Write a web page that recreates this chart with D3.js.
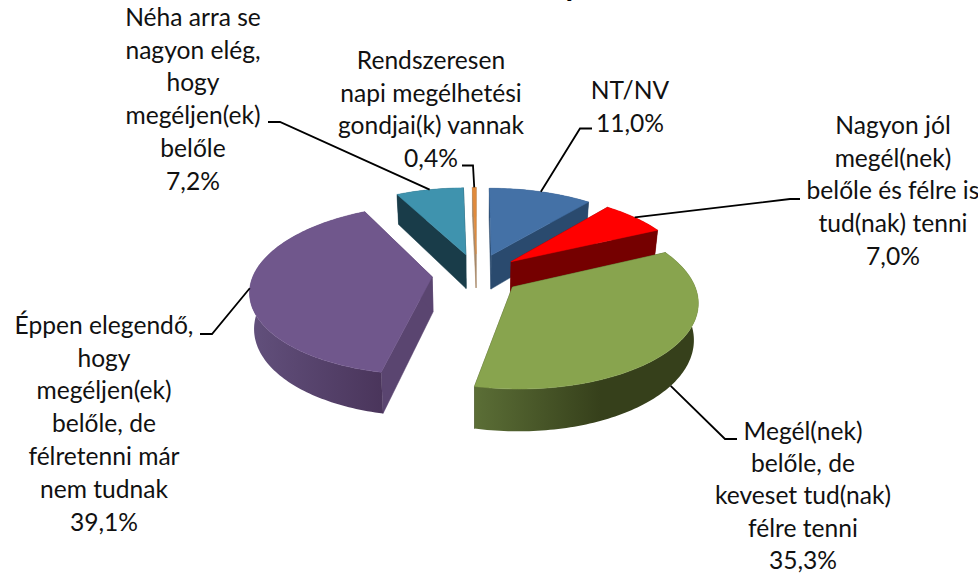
<!DOCTYPE html>
<html>
<head>
<meta charset="utf-8">
<script src="https://cdn.jsdelivr.net/npm/d3@7/dist/d3.min.js"></script>
<style>
html, body { margin: 0; padding: 0; background: #fff; overflow: hidden; }
svg { display: block; }
text { font-family: Lato, "Noto Sans", sans-serif; font-size: 24.6px; fill: #111; text-anchor: middle; }
text.title { font-size: 32px; font-weight: 700; fill: #000; }
</style>
</head>
<body>
<script>
var categories = ["NT/NV", "Nagyon jól", "Megél(nek)", "Éppen elegendő", "Néha arra se", "Rendszeresen"];
var shares = [11.0, 7.0, 35.3, 39.1, 7.2, 0.4];
var shareLabels = ["11,0%", "7,0%", "35,3%", "39,1%", "7,2%", "0,4%"];
var labelLines = [
    ["NT/NV"],
    ["Nagyon jól", "megél(nek)", "belőle és félre is", "tud(nak) tenni"],
    ["Megél(nek)", "belőle, de", "keveset tud(nak)", "félre tenni"],
    ["Éppen elegendő,", "hogy", "megéljen(ek)", "belőle, de", "félretenni már", "nem tudnak"],
    ["Néha arra se", "nagyon elég,", "hogy", "megéljen(ek)", "belőle"],
    ["Rendszeresen", "napi megélhetési", "gondjai(k) vannak"]
];
var topColors = ["#4471a6", "#ff0000", "#88a44e", "#70578c", "#3f93ae", "#e08a3c"];
var faceColors = ["#2a4a6e", "#750000", "#3a451e", "#5a4570", "#193c49", "#a98a6a"];
var wallFrom = ["#2a4a6e", "#750000", "#5b6e36", "#62507c", "#193c49", "#a98a6a"];
var wallTo = ["#2a4a6e", "#750000", "#36401b", "#4a355b", "#193c49", "#a98a6a"];

// label placement: centre x, y of first line, line gap and the leader's elbow
var labelX = [630, 893, 803, 104, 193, 431];
var labelY = [90, 125, 431, 325, 17, 60];
var labelGap = [32.9, 32.9, 32.4, 32.9, 32.9, 32.9];
var elbows = [[[580, 128.5], [592, 128.5]], [[790, 199], [800, 199]], [[725, 439], [737, 439]],
              [[212, 334], [200, 334]], [[280, 122], [268, 122]], [[473, 165.5], [462, 165.5]]];

var width = 978, height = 573;
var cx = 476.6, cy = 274, radius = 178.5, tilt = 83 / 180, persp = 0.15, explode = 0.25, depth = 35;
var drawOrder = [5, 4, 0, 3, 1, 2];

var svg = d3.select("body").append("svg").attr("width", width).attr("height", height);
var defs = svg.append("defs");

var arcs = d3.pie().sort(null).value(function(d){ return d; })(shares);
var xScale = d3.scaleLinear().domain([-1, 1]).range([cx - radius, cx + radius]);
var yScale = d3.scaleLinear().domain([-1, 1]).range([cy - radius * tilt, cy + radius * tilt]);
var line = d3.line();

// ground plane point (u right, v to viewer) -> screen, low = 1 for the bottom of the pie
function project(u, v, low){
    var s = 1 / (1 - persp * v);
    var k = low ? 0.98 : 1;
    return [xScale(u * s * k), yScale(v * s) + (low ? depth * s : 0)];
}

function rimPoint(arc, a, r){
    var mid = (arc.startAngle + arc.endAngle) / 2;
    return [explode * Math.sin(mid) + r * Math.sin(a), -explode * Math.cos(mid) - r * Math.cos(a)];
}

function rim(arc){
    var n = Math.max(2, Math.ceil((arc.endAngle - arc.startAngle) / 0.02));
    return d3.range(n + 1).map(function(i){
	return rimPoint(arc, arc.startAngle + (arc.endAngle - arc.startAngle) * i / n, 1);
    });
}

// the title is cropped in the reference, only this tail is left of it
svg.append("text").attr("class", "title").attr("x", 572).attr("y", -4).text("y");

drawOrder.forEach(function(i){
    var arc = arcs[i],
	pts = rim(arc),
	apex = rimPoint(arc, arc.startAngle, 0),
	top = pts.map(function(p){ return project(p[0], p[1], false); }),
	low = pts.map(function(p){ return project(p[0], p[1], true); }),
	g = svg.append("g"),
	gradId = "wall" + i;

    var grad = defs.append("linearGradient").attr("id", gradId)
	.attr("gradientUnits", "userSpaceOnUse")
	.attr("x1", i == 2 ? 475 : 250).attr("x2", i == 2 ? 600 : 383)
	.attr("y1", 0).attr("y2", 0);
    grad.append("stop").attr("offset", 0).attr("stop-color", wallFrom[i]);
    grad.append("stop").attr("offset", 1).attr("stop-color", wallTo[i]);

    var a0 = project(apex[0], apex[1], false), a1 = project(apex[0], apex[1], true);
    // radial faces
    [0, pts.length - 1].forEach(function(j){
	g.append("path").attr("d", line([a0, top[j], low[j], a1]) + "Z")
	    .attr("fill", faceColors[i]).attr("stroke", faceColors[i]).attr("stroke-width", 0.5);
    });
    // outer wall
    g.append("path").attr("d", line(top.concat(low.slice().reverse())) + "Z")
	.attr("fill", "url(#" + gradId + ")");
    // top
    g.append("path").attr("d", line([a0].concat(top)) + "Z")
	.attr("fill", topColors[i]).attr("stroke", topColors[i]).attr("stroke-width", 0.5);
});

// leader lines start on the rim at the middle of the slice
arcs.forEach(function(arc, i){
    var mid = (arc.startAngle + arc.endAngle) / 2,
	p = rimPoint(arc, mid, 1),
	start = project(p[0], p[1], i == 2);
    svg.append("path")
	.attr("d", line([start].concat(elbows[i])))
	.attr("fill", "none").attr("stroke", "#000").attr("stroke-width", 1.8);
});

// labels
labelLines.forEach(function(lines, i){
    var all = lines.concat([shareLabels[i]]);
    var t = svg.append("text").attr("data-category", categories[i]);
    all.forEach(function(s, j){
	t.append("tspan").attr("x", labelX[i]).attr("y", labelY[i] + j * labelGap[i])
	    .attr("dy", "0.35em").text(s);
    });
});
</script>
</body>
</html>
